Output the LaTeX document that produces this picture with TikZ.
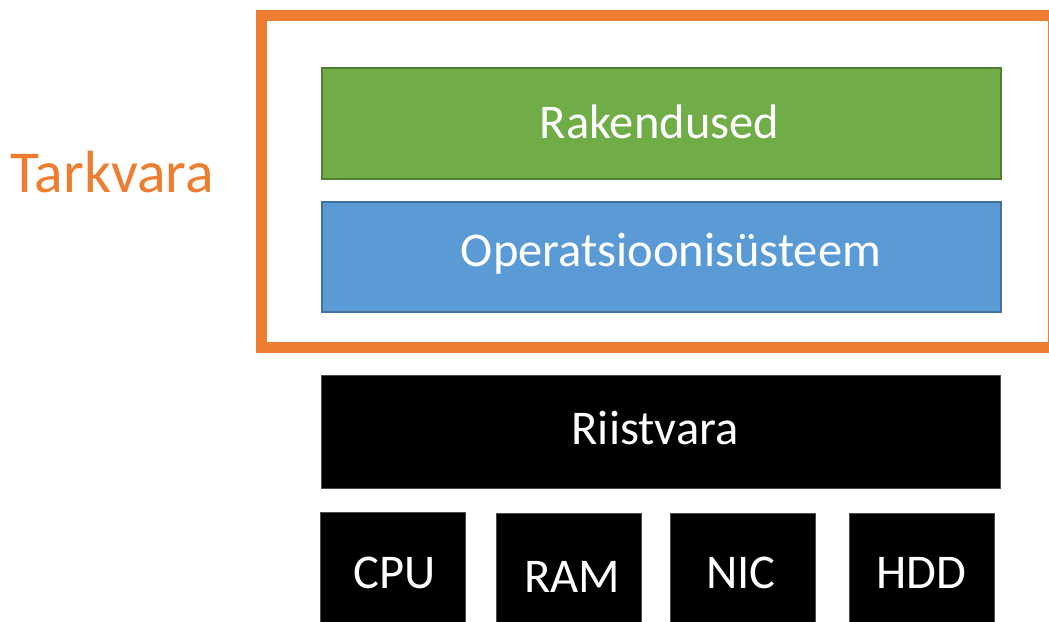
\documentclass[tikz,border=0pt]{standalone}
\usepackage{fontspec}
\setmainfont{Carlito}
\definecolor{orangeO}{HTML}{ED7D31}
\definecolor{greenF}{HTML}{70AD47}
\definecolor{greenB}{HTML}{507E32}
\definecolor{blueF}{HTML}{5B9BD5}
\definecolor{blueB}{HTML}{41719C}
\begin{document}
\begin{tikzpicture}[x=1pt,y=-1pt,
  lbl/.style={text=white,font=\fontsize{48.5}{58}\selectfont,inner sep=0pt,anchor=center},
  layer/.style={rectangle,inner sep=0pt,anchor=north west,minimum width=679pt},
  hw/.style={rectangle,fill=black,draw=black!70,line width=0.8pt,inner sep=0pt,anchor=north west,minimum width=145pt,minimum height=130pt}]
\clip (0,0) rectangle (1049,621);
\fill[white] (0,0) rectangle (1049,621);
% software frame
\draw[orangeO,line width=11pt] (261,15.5) rectangle (1053.5,347.5);
\node[text=orangeO,font=\fontsize{59.5}{70}\selectfont,inner sep=0pt,anchor=center] (tark) at (112,172.5) {Tarkvara};
% layers
\node[layer,fill=greenF,draw=greenB,line width=2pt,minimum height=111pt] (rak) at (321,66.5) {};
\node[lbl] (rakT) at (659.5,122) {Rakendused};
\node[layer,fill=blueF,draw=blueB,line width=2pt,minimum height=110pt] (os) at (321,200.5) {};
\node[lbl] (osT) at (671,254) {Operatsioonisüsteem};
\node[layer,fill=black,draw=black!70,line width=0.8pt,minimum height=113pt] (riist) at (321,375) {};
\node[lbl] (riistT) at (655,428) {Riistvara};
% hardware components
\node[hw] (cpu) at (320,512) {};
\node[lbl] (cpuT) at (395,573) {CPU};
\node[hw] (ram) at (496,513) {};
\node[lbl] (ramT) at (572,577) {RAM};
\node[hw] (nic) at (670,513) {};
\node[lbl] (nicT) at (741,573) {NIC};
\node[hw] (hdd) at (849,513) {};
\node[lbl] (hddT) at (921,573) {HDD};
\end{tikzpicture}
\end{document}
